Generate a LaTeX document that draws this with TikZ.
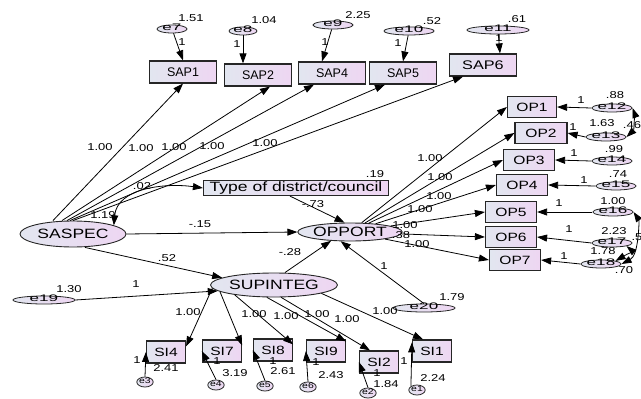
\documentclass[tikz,border=0pt]{standalone}
\usepackage{fontspec}
\setmainfont{Liberation Sans}
\newfontfamily\wfont[FakeStretch=1.3]{Liberation Sans}
\newfontfamily\efont[FakeStretch=1.8]{Liberation Sans}
\usetikzlibrary{shapes.geometric,arrows.meta}
\definecolor{fillL}{RGB}{226,230,240}
\definecolor{fillR}{RGB}{238,214,242}
\tikzset{
  obs/.style={draw=black!85, line width=1.2pt, left color=fillL, right color=fillR,
    inner sep=0pt, font=\wfont\fontsize{12}{12}\selectfont},
  sap/.style={obs, minimum width=67, minimum height=22, font=\fontsize{12.5}{12.5}\selectfont},
  lat/.style={ellipse, draw=black!85, line width=0.9pt, left color=fillL, right color=fillR,
    inner sep=0pt, font=\wfont\fontsize{13.5}{13.5}\selectfont},
  err/.style={ellipse, draw=black!85, line width=0.8pt, left color=fillL, right color=fillR,
    inner sep=0pt, minimum height=8, text height=3pt, text depth=0pt, font=\efont\fontsize{9.5}{9.5}\selectfont},
  serr/.style={err, minimum width=15, minimum height=10, font=\wfont\fontsize{8}{8}\selectfont},
  arr/.style={-{Triangle[length=10pt,width=7pt]}, line width=0.8pt},
  dbl/.style={{Triangle[length=10pt,width=7pt]}-{Triangle[length=10pt,width=7pt]}, line width=0.8pt},
  lab/.style={font=\wfont\fontsize{10}{10}\selectfont, inner sep=0pt}
}
\begin{document}
\begin{tikzpicture}[x=1pt,y=-1pt]
\useasboundingbox (0,0) rectangle (641,399);

% latent variables
\node[lat, minimum width=106, minimum height=26] (SASPEC) at (73,234) {SASPEC};
\node[lat, minimum width=82, minimum height=18] (OPPORT) at (350,232) {OPPORT};
\node[lat, minimum width=102, minimum height=24] (SUPINTEG) at (274,285) {SUPINTEG};
\node[obs, minimum width=185, minimum height=15, font=\wfont\fontsize{13.5}{13.5}\selectfont] (Type) at (296,188) {Type of district/council};

% observed variables
\foreach \n/\x/\y in {SAP1/183/72, SAP2/258/75, SAP4/332/73, SAP5/403/73}
  \node[sap] (\n) at (\x,\y) {\n};
\node[sap, font=\wfont\fontsize{12.5}{12.5}\selectfont] (SAP6) at (483,65) {SAP6};
\foreach \n/\x/\y/\w in {OP1/532/107/49, OP2/541/133/52, OP3/529/160/51, OP4/522/185/51, OP5/511/212/51, OP6/511/237/51, OP7/515/260/51}
  \node[obs, minimum width=\w, minimum height=21] (\n) at (\x,\y) {\n};
\foreach \n/\x/\y in {SI4/166/352, SI7/222/351, SI8/273/350, SI9/326/351, SI2/379/362, SI1/432/351}
  \node[obs, minimum width=39, minimum height=22] (\n) at (\x,\y) {\n};

% error terms
\foreach \n/\x/\y/\w in {e7/172/29/30, e8/243/31/28, e9/333/25/40, e10/409/31/50, e11/498/30/62,
    e19/44/300/62, e20/424/308/62, e12/612/108/26, e13/606/137/28, e14/612/161/28,
    e15/616/186/26, e16/613/212/30, e17/612/243/30, e18/601/264/34}
  \node[err, minimum width=\w] (\n) at (\x,\y) {\n};
\foreach \n/\x/\y in {e3/145/382, e4/216/385, e5/265/386, e6/308/387, e2/368/393, e1/417/390}
  \node[serr] (\n) at (\x,\y) {\n};

% SASPEC block
\draw[arr] (e7) -- (SAP1.north);
\draw[arr] (e8) -- (e8 |- SAP2.north);
\draw[arr] (e9) -- ([xshift=-10]SAP4.north);
\draw[arr] (e10) -- (SAP5.north);
\draw[arr] (e11) -- ([xshift=17]SAP6.north);
\foreach \t/\s/\e in {SAP1/-20/0, SAP2/-11/12, SAP4/-6/-18, SAP5/-3/-18, SAP6/0/-20}
  \draw[arr] ([xshift=\s]SASPEC.north) -- ([xshift=\e]\t.south);
\draw[dbl] (Type.west) to[out=172, in=85] (SASPEC.12);

% structural paths
\draw[arr] (SASPEC.east) -- (OPPORT.west);
\draw[arr] ([xshift=-6]Type.south) -- (OPPORT.120);
\draw[arr] ([xshift=12]SASPEC.south) -- (SUPINTEG.172);
\draw[arr] (e19.east) -- (SUPINTEG.186);
\draw[arr] ([xshift=11]SUPINTEG.north) -- (OPPORT.205);
\draw[arr] (e20.north) -- (OPPORT.225);

% OPPORT block
\foreach \t in {OP1, OP2, OP3, OP4, OP5, OP6, OP7}
  \draw[arr] (OPPORT) -- (\t.west);
\foreach \e/\t in {e12/OP1, e13/OP2, e14/OP3, e15/OP4, e16/OP5, e17/OP6, e18/OP7}
  \draw[arr] (\e.west) -- (\t.east);
\draw[dbl] (e12.east) .. controls (634,112) and (634,130) .. (e13.east);
\draw[dbl] (e16.east) .. controls (639,220) and (639,255) .. (e18.east);
\draw[dbl] (e17.south east) to[out=-40, in=30] (e18.north east);

% SUPINTEG block
\draw[arr] (SUPINTEG.183) -- ([yshift=-6]SI4.north east);
\draw[arr] (SUPINTEG.187) -- ([yshift=-6]SI7.north east);
\draw[arr] (SUPINTEG.194) -- ([yshift=-6]SI8.north east);
\draw[arr] (SUPINTEG.240) -- ([yshift=-2]SI9.north east);
\draw[arr] (SUPINTEG.300) -- ([xshift=-9]SI2.north);
\draw[arr] (SUPINTEG.350) -- ([xshift=-9]SI1.north);
\foreach \e/\t in {e3/SI4, e4/SI7, e5/SI8, e6/SI9, e2/SI2}
  \draw[arr] (\e.north) -- (\t.west);
\draw[arr] (e1.north west) -- ([yshift=-3]SI1.north west);

% estimates
\foreach \t/\x/\y [count=\i] in {1.51/191/18, 1/182/42, 1.04/264/20, 1/237/44, 2.25/358/15,
    1/325/42, .52/432/21, 1/398/43, .61/517/19, 1/499/38,
    1.00/100/147, 1.00/141/148, 1.00/174/147, 1.00/212/146, 1.00/265/143,
    .02/142/186, 1.19/103/215, .19/375/174, -.73/313/204, -.15/200/224,
    .52/167/258, -.28/290/252, 1.30/69/289, 1/136/284, 1/384/266, 1.79/452/297, .38/401/235,
    1.00/430/158, 1.00/440/177, 1.00/439/196, 1.00/420/209, 1.00/405/225, 1.00/417/244,
    1/581/100, .88/615/95, 1/573/127, 1.63/602/123, .46/632/125, 1/574/153, .99/614/149,
    1/584/180, .74/618/174, 1/559/203, 1.00/613/201, 1/569/229, 2.23/614/231, .5/637/237,
    1.78/603/251, 1/564/256, .70/624/270,
    1.00/188/312, 1.00/254/314, 1.00/286/316, 1.00/317/314, 1.00/347/319, 1.00/385/311,
    1/137/360, 2.41/166/368, 1/217/361, 3.19/235/373, 1/273/361, 2.61/283/371,
    1/316/362, 2.43/331/375, 1/377/373, 1.84/386/384, 1/404/361, 2.24/433/378}
  \node[lab] (v\i) at (\x,\y) {\t};
\end{tikzpicture}
\end{document}
